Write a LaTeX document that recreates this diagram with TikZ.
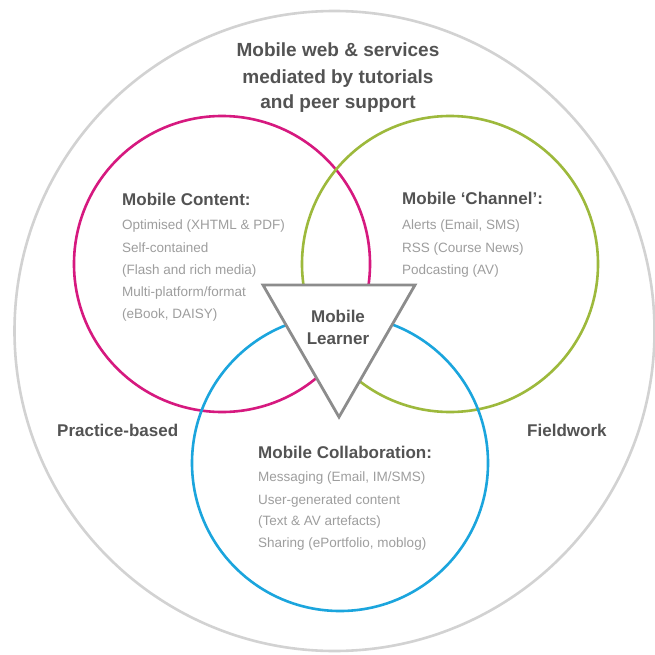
\documentclass[tikz,border=0pt]{standalone}
\usepackage{fontspec}
\setmainfont{Liberation Sans}
\definecolor{outergray}{HTML}{D2D2D2}
\definecolor{contentpink}{HTML}{D6197F}
\definecolor{channelgreen}{HTML}{9DB93C}
\definecolor{collabblue}{HTML}{1BA5DD}
\definecolor{learnergray}{HTML}{8C8C8C}
\definecolor{headgray}{HTML}{535353}
\definecolor{itemgray}{HTML}{9E9E9E}
\begin{document}
\begin{tikzpicture}[x=1pt,y=-1pt,
  ring/.style={line width=2.6pt},
  titletext/.style={font=\fontsize{19}{22}\selectfont\bfseries, text=headgray, anchor=base, inner sep=0pt},
  headtext/.style={font=\fontsize{17}{20}\selectfont\bfseries, text=headgray, anchor=base west, inner sep=0pt},
  itemtext/.style={font=\fontsize{13.5}{16}\selectfont, text=itemgray, anchor=base west, inner sep=0pt},
]
\useasboundingbox (0,0) rectangle (655,655);
\fill[white] (0,0) rectangle (655,655);

% outer context ring and the three overlapping areas
\draw[ring, outergray] (334.5,331) circle[radius=320];
\draw[ring, contentpink] (222,264) circle[radius=148];
\draw[ring, channelgreen] (450,264) circle[radius=148];
\draw[ring, collabblue] (340,463) circle[radius=148];

% learner at the centre
\draw[line width=2.8pt, learnergray, fill=white, line join=miter]
  (263,285) coordinate (tl) -- (415,285) coordinate (tr) -- (339,417) coordinate (tb) -- cycle;
\node[headtext, anchor=base] (ml1) at (338,322.8) {Mobile};
\node[headtext, anchor=base] (ml2) at (338,344.4) {Learner};

% context title
\node[titletext] (t1) at (338,56.8) {Mobile web \& services};
\node[titletext] (t2) at (338,83.8) {mediated by tutorials};
\node[titletext] (t3) at (338,108.8) {and peer support};

% mobile content
\node[headtext] (mc) at (122,205) {Mobile Content:};
\node[itemtext] (mc1) at (122,229.5) {Optimised (XHTML \& PDF)};
\node[itemtext] (mc2) at (122,252.5) {Self-contained};
\node[itemtext] (mc3) at (122,274.5) {(Flash and rich media)};
\node[itemtext] (mc4) at (122,296.5) {Multi-platform/format};
\node[itemtext] (mc5) at (122,318.5) {(eBook, DAISY)};

% mobile channel
\node[headtext] (ch) at (402,204) {Mobile ‘Channel’:};
\node[itemtext] (ch1) at (402,229.5) {Alerts (Email, SMS)};
\node[itemtext] (ch2) at (402,252.5) {RSS (Course News)};
\node[itemtext] (ch3) at (402,274.5) {Podcasting (AV)};

% mobile collaboration
\node[headtext] (co) at (258,458) {Mobile Collaboration:};
\node[itemtext] (co1) at (258,481.5) {Messaging (Email, IM/SMS)};
\node[itemtext] (co2) at (258,504.5) {User-generated content};
\node[itemtext] (co3) at (258,525.5) {(Text \& AV artefacts)};
\node[itemtext] (co4) at (258,547.5) {Sharing (ePortfolio, moblog)};

% settings
\node[headtext] (pb) at (57,436) {Practice-based};
\node[headtext] (fw) at (527,436) {Fieldwork};
\end{tikzpicture}
\end{document}
